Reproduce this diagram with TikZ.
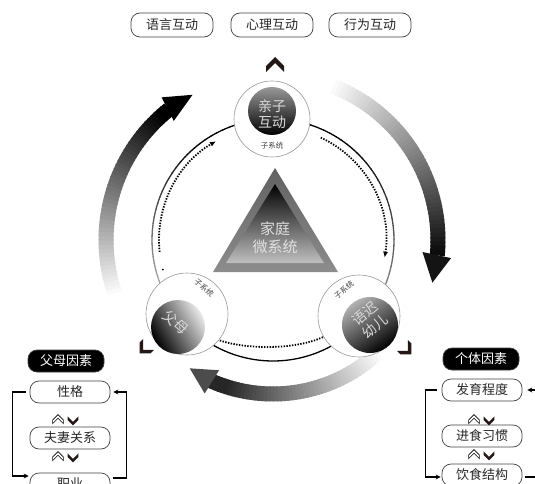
\documentclass[tikz,border=0pt]{standalone}
\usepackage{fontspec}
\newfontfamily\cjk{Noto Sans CJK SC}
\usetikzlibrary{calc,arrows.meta}
\definecolor{ink}{RGB}{35,24,21}
\begin{document}
\begin{tikzpicture}[x=1pt,y=1pt,
  pill/.style={draw=black!75, line width=0.7pt, rounded corners=9pt, inner sep=0pt,
    minimum height=24pt, minimum width=82pt, font=\cjk\fontsize{13}{13}\selectfont, text=black!85},
  pillb/.style={pill, minimum height=22pt, minimum width=80pt},
  hdr/.style={pill, fill=black, text=white, minimum height=22pt, minimum width=76pt},
  dotline/.style={line width=1.8pt, dash pattern=on 1.4pt off 1.4pt, black},
  brk/.style={line width=1.2pt, -{Stealth[length=5pt,width=5pt]}},
  sub/.style={font=\cjk\fontsize{7.5}{7.5}\selectfont, text=black!75},
  big/.style={font=\cjk\fontsize{14}{16}\selectfont, text=white!85!black, align=center},
  chev/.pic={\fill (0,9) -- (9,0) -- (9,-6) -- (0,3) -- (-9,-6) -- (-9,0) -- cycle;},
  chevo/.pic={\draw[line width=0.6pt, fill=white] (0,9) -- (9,0) -- (9,-6) -- (0,3) -- (-9,-6) -- (-9,0) -- cycle;}
]
\useasboundingbox (0,0) rectangle (535,-484);
\clip (0,0) rectangle (535,-484);
\coordinate (C) at (273,-240);

% ---------- outer gradient arrows ----------
\foreach \i in {0,...,49}{
  \pgfmathsetmacro\a{200-\i*1.42}
  \pgfmathsetmacro\b{\a-1.9}
  \pgfmathsetmacro\c{min(100,\i*2.1)}
  \draw[line width=15pt, black!\c] ($(C)+(\a:167)$) arc[start angle=\a, end angle=\b, radius=167];
}
\fill[black] ($(C)+(129.8:155)$) -- ($(C)+(119:166)$) -- ($(C)+(128:181)$) -- cycle;

\foreach \i in {0,...,49}{
  \pgfmathsetmacro\a{70-\i*1.5}
  \pgfmathsetmacro\b{\a-1.9}
  \pgfmathsetmacro\c{min(95,\i*1.95)}
  \draw[line width=15pt, black!\c] ($(C)+(\a:165)$) arc[start angle=\a, end angle=\b, radius=165];
}
\fill[black!92] ($(C)+(-4.6:150)$) -- ($(C)+(-15:165)$) -- ($(C)+(-5.8:179)$) -- cycle;

\foreach \i in {0,...,49}{
  \pgfmathsetmacro\a{-46-\i*1.36}
  \pgfmathsetmacro\b{\a-1.9}
  \pgfmathsetmacro\c{min(85,\i*1.9)}
  \draw[line width=15pt, black!\c] ($(C)+(\a:154)$) arc[start angle=\a, end angle=\b, radius=154];
}
\fill[black!70] ($(C)+(-112.5:141)$) -- ($(C)+(-123:153)$) -- ($(C)+(-114:168)$) -- cycle;

% ---------- thin ring ----------
\foreach \i in {0,...,39}{
  \pgfmathsetmacro\a{95+\i*3.2}
  \pgfmathsetmacro\b{\a+3.6}
  \pgfmathsetmacro\c{max(20,100-max(0,\a-130)*0.95)}
  \draw[line width=1.3pt, black!\c] ($(C)+(\a:121)$) arc[start angle=\a, end angle=\b, radius=121];
}
\foreach \i in {0,...,39}{
  \pgfmathsetmacro\a{85-\i*3.25}
  \pgfmathsetmacro\b{\a-3.6}
  \pgfmathsetmacro\c{max(35,100-max(0,50-\a)*0.72)}
  \draw[line width=1.3pt, black!\c] ($(C)+(\a:121)$) arc[start angle=\a, end angle=\b, radius=121];
}
\draw[line width=1.3pt, black] ($(C)+(215:121)$) arc[start angle=215, end angle=325, radius=121];

% ---------- dotted arcs ----------
\draw[dotline, -{Latex[length=6pt,width=5pt]}] ($(C)+(186:114)$) arc[start angle=186, end angle=120, radius=114];
\draw[dotline, -{Latex[length=6pt,width=5pt]}] ($(C)+(65:113)$) arc[start angle=65, end angle=-9, radius=113];
\fill ($(C)+(195:114)$) circle (1);
\draw[dotline] (207,-335) .. controls (235,-351) and (299,-351) .. (327,-335);

% ---------- subsystem circles ----------
\node[circle, draw=black!40, line width=0.6pt, fill=white, minimum size=76pt, inner sep=0pt] (topW) at (272,-119) {};
\shade[top color=black!40, bottom color=black] (272,-111) circle (24);
\node[big] (qz) at (272,-114) {亲子\\互动};
\node[sub] (s1) at (272,-146) {子系统};

\node[circle, draw=black!40, line width=0.6pt, fill=white, minimum size=82pt, inner sep=0pt] (leftW) at (187,-314) {};
\shade[top color=black!8, bottom color=black, shading angle=-60] (178,-327) circle (27);
\node[big, rotate=-40] (fm) at (176,-322) {父母};
\node[sub, rotate=-40] (s2) at (204,-288) {子系统};

\node[circle, draw=black!40, line width=0.6pt, fill=white, minimum size=82pt, inner sep=0pt] (rightW) at (359,-316) {};
\shade[top color=black!30, bottom color=black, shading angle=35] (370,-325) circle (28);
\node[big, rotate=40] (yc) at (370,-320) {语迟\\幼儿};
\node[sub, rotate=40] (s3) at (344,-290) {子系统};

% ---------- triangle ----------
\shade[top color=black!62, bottom color=black!45] (275,-168) -- (213,-272) -- (338,-272) -- cycle;
\shade[top color=black, bottom color=black!25] (275,-184) -- (226,-263) -- (324,-263) -- cycle;
\node[font=\cjk\fontsize{15}{18}\selectfont, text=white!88!black, align=center] (jt) at (275,-238) {家庭\\微系统};

% ---------- top labels ----------
\node[pill] (yy) at (172,-25) {语言互动};
\node[pill] (xl) at (272,-25) {心理互动};
\node[pill] (xw) at (370,-25) {行为互动};

% ---------- big chevrons ----------
\pic[color=ink] at (275,-66) {chev};
\pic[color=ink, rotate=135, scale=0.85] at (145,-348) {chev};
\pic[color=ink, rotate=-135, scale=0.85] at (406,-349) {chev};

% ---------- parent factors ----------
\node[hdr] (pf) at (66,-361) {父母因素};
\node[pillb] (xg) at (70,-392) {性格};
\node[pillb] (fq) at (70,-438) {夫妻关系};
\node[pillb] (zy) at (70,-484) {职业};
\pic[scale=0.6] at (58,-420) {chevo};
\pic[color=ink, rotate=180, scale=0.6] at (73,-420) {chev};
\pic[scale=0.6] at (58,-457) {chevo};
\pic[color=ink, rotate=180, scale=0.6] at (73,-457) {chev};
\draw[brk] ([xshift=-4pt]xg.west) -- ++(-13,0) |- ($(zy.west)+(-1,8)$);
\draw[brk] ($(zy.east)+(3,6)$) -- ++(13,0) |- ([xshift=3pt]xg.east);

% ---------- individual factors ----------
\node[hdr] (if) at (481,-359) {个体因素};
\node[pillb] (fy) at (482,-390) {发育程度};
\node[pillb] (js) at (482,-436) {进食习惯};
\node[pillb] (ys) at (482,-475) {饮食结构};
\pic[scale=0.6] at (474,-420) {chevo};
\pic[color=ink, rotate=180, scale=0.6] at (489,-420) {chev};
\pic[scale=0.6] at (474,-455) {chevo};
\pic[color=ink, rotate=180, scale=0.6] at (489,-455) {chev};
\draw[brk] ([xshift=-5pt]fy.west) -- ++(-11,0) |- ($(ys.west)+(-1,-2)$);
\draw[brk] ($(ys.east)+(3,-2)$) -- ++(30,0) |- ([xshift=5pt]fy.east);
\end{tikzpicture}
\end{document}
